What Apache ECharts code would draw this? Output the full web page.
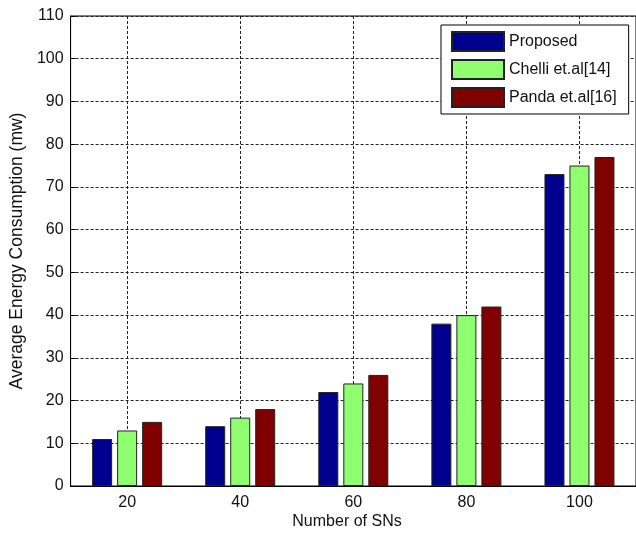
<!DOCTYPE html>
<html>
<head>
<meta charset="utf-8">
<script src="https://cdn.jsdelivr.net/npm/echarts@6/dist/echarts.min.js"></script>
<style>
  html, body { margin: 0; padding: 0; background: #fff; }
  #chart { width: 636px; height: 534px; }
</style>
</head>
<body>
<div id="chart"></div>
<script>
// Number of sensor nodes (x categories)
const categories = ['20', '40', '60', '80', '100'];

// Average energy consumption (mw) per method
const proposed = [11, 14, 22, 38, 73];
const chelli   = [13, 16, 24, 40, 75];
const panda    = [15, 18, 26, 42, 77];

const seriesNames = ['Proposed', 'Chelli et.al[14]', 'Panda et.al[16]'];
const seriesColors = ['#00008f', '#8fff70', '#800000'];

// y axis range and tick step
const yMin = 0, yMax = 110, yStep = 10;

const FONT = 'Liberation Sans, Arial, Helvetica, sans-serif';
const gridLine = { show: true, lineStyle: { color: '#222', width: 1, type: [3, 2] } };

const chart = echarts.init(document.getElementById('chart'), null, { renderer: 'canvas' });

const makeBar = (name, data, color) => ({
  name: name,
  type: 'bar',
  data: data,
  barWidth: 20,
  barGap: '25%',
  itemStyle: { color: color, borderColor: '#222', borderWidth: 1 },
  emphasis: { disabled: true },
  animation: false
});

chart.setOption({
  animation: false,
  backgroundColor: '#fff',
  grid: {
    left: 70, top: 16, width: 569, height: 470,
    show: true, borderColor: '#000', borderWidth: 1, backgroundColor: 'transparent'
  },
  legend: {
    orient: 'vertical',
    left: 441, top: 25,
    padding: [6, 12, 6, 10],
    itemGap: 7,
    itemWidth: 52, itemHeight: 19,
    icon: 'rect',
    backgroundColor: '#fff',
    borderColor: '#000', borderWidth: 1,
    textStyle: { fontFamily: FONT, fontSize: 16, color: '#111' },
    data: seriesNames
  },
  xAxis: {
    type: 'category',
    data: categories,
    boundaryGap: true,
    axisLine: { show: true, lineStyle: { color: '#000', width: 1 } },
    axisTick: { show: true, inside: true, length: 5, alignWithLabel: true, lineStyle: { color: '#000' } },
    axisLabel: { fontFamily: FONT, fontSize: 16, color: '#111', margin: 9 },
    splitLine: Object.assign({ alignWithLabel: true }, gridLine)
  },
  yAxis: {
    type: 'value',
    min: yMin, max: yMax, interval: yStep,
    name: 'Average Energy Consumption (mw)',
    nameLocation: 'middle',
    nameRotate: 90,
    nameGap: 42,
    nameTextStyle: { fontFamily: FONT, fontSize: 17.5, color: '#111' },
    axisLine: { show: true, lineStyle: { color: '#000', width: 1 } },
    axisTick: { show: true, inside: true, length: 5, lineStyle: { color: '#000' } },
    axisLabel: { fontFamily: FONT, fontSize: 16, color: '#111', margin: 7 },
    splitLine: gridLine
  },
  graphic: [{
    type: 'text',
    x: 347, y: 522,
    style: {
      text: 'Number of SNs',
      fontFamily: FONT, fontSize: 16, fill: '#111',
      textAlign: 'center', textVerticalAlign: 'middle'
    }
  }],
  series: [
    makeBar(seriesNames[0], proposed, seriesColors[0]),
    makeBar(seriesNames[1], chelli, seriesColors[1]),
    makeBar(seriesNames[2], panda, seriesColors[2])
  ]
});
</script>
</body>
</html>
